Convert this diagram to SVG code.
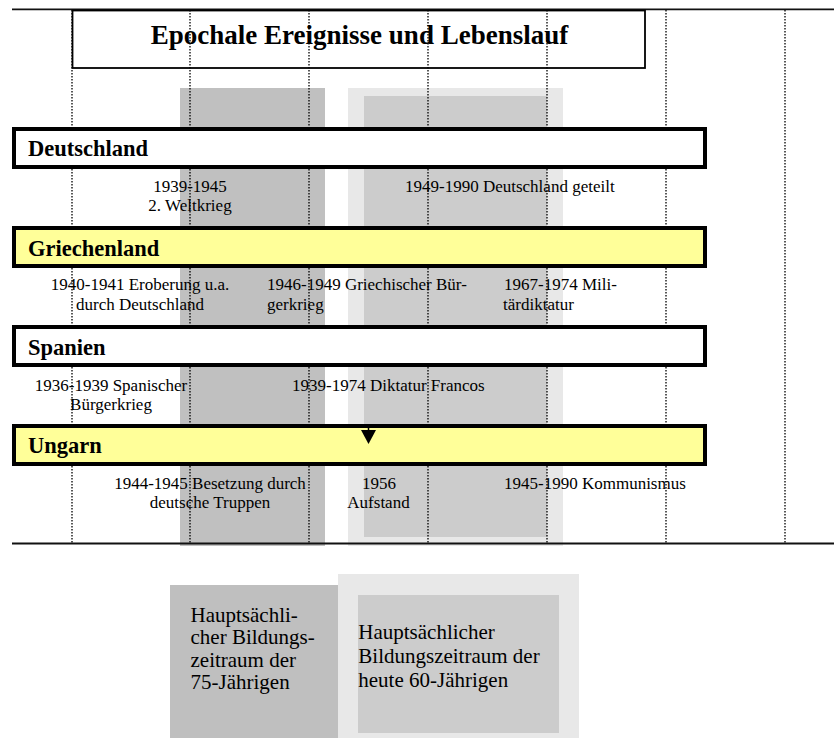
<svg xmlns="http://www.w3.org/2000/svg" width="834" height="738" viewBox="0 0 834 738">
<defs>
<style>
text{font-family:"Liberation Serif","Times New Roman",serif;fill:#000}
.t{font-size:17px}
.lbl{font-size:22.5px;font-weight:bold}
.leg{font-size:21px}
.row{stroke:#000;stroke-width:4}
.dot{stroke:#000;stroke-width:1.3;stroke-dasharray:1.6 1.4;fill:none}
.rule{stroke:#111;stroke-width:1.8}
</style>
</defs>
<rect width="834" height="738" fill="#fff"/>

<g id="bands">
<rect x="180" y="88" width="145" height="458" fill="#c0c0c0"/>
<rect x="348" y="88" width="215" height="458" fill="#e8e8e8"/>
<rect x="364" y="96" width="183" height="441" fill="#cccccc"/>
</g>

<g id="frame">
<line class="rule" x1="12" y1="9.3" x2="834" y2="9.3"/>
<line class="rule" x1="12" y1="543.5" x2="834" y2="543.5"/>
</g>

<g id="texts">
<text class="t" x="190" y="192" text-anchor="middle">1939-1945</text>
<text class="t" x="190" y="211" text-anchor="middle">2. Weltkrieg</text>
<text class="t" x="405" y="192">1949-1990 Deutschland geteilt</text>

<text class="t" x="140" y="290" text-anchor="middle">1940-1941 Eroberung u.a.</text>
<text class="t" x="140" y="309.5" text-anchor="middle">durch Deutschland</text>
<text class="t" x="267" y="290">1946-1949 Griechischer Bür-</text>
<text class="t" x="267" y="309.5">gerkrieg</text>
<text class="t" x="504" y="290">1967-1974 Mili-</text>
<text class="t" x="503" y="309.5">tärdiktatur</text>

<text class="t" x="111" y="391" text-anchor="middle">1936-1939 Spanischer</text>
<text class="t" x="111" y="410" text-anchor="middle">Bürgerkrieg</text>
<text class="t" x="292" y="391">1939-1974 Diktatur Francos</text>

<text class="t" x="210" y="489" text-anchor="middle">1944-1945 Besetzung durch</text>
<text class="t" x="210" y="508" text-anchor="middle">deutsche Truppen</text>
<text class="t" x="379" y="489" text-anchor="middle">1956</text>
<text class="t" x="378.5" y="508" text-anchor="middle">Aufstand</text>
<text class="t" x="504" y="489">1945-1990 Kommunismus</text>
</g>

<g id="gridlines">
<line class="dot" x1="72" y1="10" x2="72" y2="543"/>
<line class="dot" x1="190" y1="10" x2="190" y2="543"/>
<line class="dot" x1="309" y1="10" x2="309" y2="543"/>
<line class="dot" x1="428" y1="10" x2="428" y2="543"/>
<line class="dot" x1="547" y1="10" x2="547" y2="543"/>
<line class="dot" x1="666" y1="10" x2="666" y2="543"/>
<line class="dot" x1="785" y1="10" x2="785" y2="543"/>
</g>

<g id="title">
<rect x="72.5" y="10.5" width="572.5" height="57.5" fill="none" stroke="#000" stroke-width="1.8"/>
<text x="359.5" y="43.5" text-anchor="middle" style="font-size:27px;font-weight:bold">Epochale Ereignisse und Lebenslauf</text>
</g>

<g id="deutschland">
<rect class="row" x="14" y="129" width="691" height="38" fill="#fff"/>
<text class="lbl" x="28" y="156">Deutschland</text>
</g>

<g id="griechenland">
<rect class="row" x="14" y="228" width="691" height="38" fill="#ffff99"/>
<text class="lbl" x="28" y="256">Griechenland</text>
</g>

<g id="spanien">
<rect class="row" x="14" y="327" width="691" height="38" fill="#fff"/>
<text class="lbl" x="28" y="355">Spanien</text>
</g>

<g id="ungarn">
<rect class="row" x="14" y="426" width="691" height="38" fill="#ffff99"/>
<text class="lbl" x="28" y="453">Ungarn</text>
</g>

<g id="connectors">
<line x1="368.5" y1="426" x2="368.5" y2="432" stroke="#000" stroke-width="1.5"/>
<polygon points="361,430 376,430 368.5,444" fill="#000"/>
</g>

<g id="legend-75">
<rect x="170" y="585" width="168" height="153" fill="#bfbfbf"/>
<text class="leg" x="190.5" y="622">Hauptsächli-</text>
<text class="leg" x="190.5" y="644.3">cher Bildungs-</text>
<text class="leg" x="190.5" y="666.6">zeitraum der</text>
<text class="leg" x="190.5" y="689">75-Jährigen</text>
</g>

<g id="legend-60">
<rect x="338" y="574" width="241" height="164" fill="#e8e8e8"/>
<rect x="358" y="595" width="201" height="138" fill="#cccccc"/>
<text class="leg" x="358.3" y="639.3">Hauptsächlicher</text>
<text class="leg" x="358.3" y="663.3">Bildungszeitraum der</text>
<text class="leg" x="358.3" y="687.3">heute 60-Jährigen</text>
</g>
</svg>
